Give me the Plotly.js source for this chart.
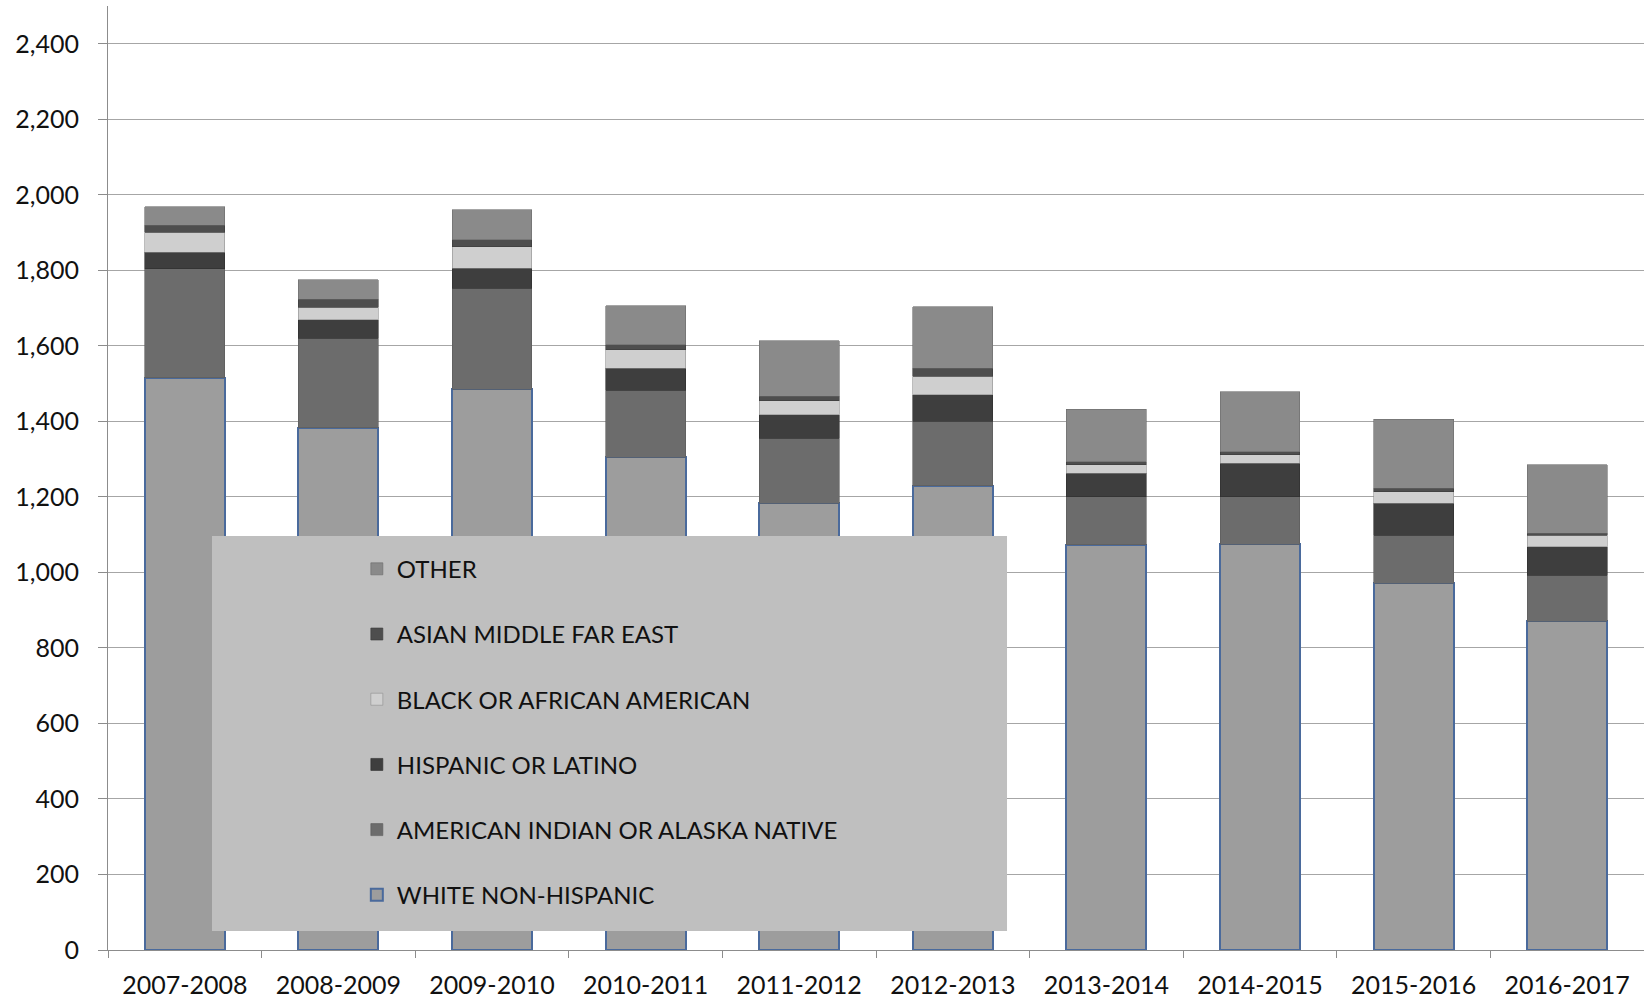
<!DOCTYPE html>
<html>
<head>
<meta charset="utf-8">
<script src="https://cdn.plot.ly/plotly-3.0.1.min.js"></script>
<style>
  html, body { margin: 0; padding: 0; background: #ffffff; }
  #chart { width: 1644px; height: 1001px; }
</style>
</head>
<body>
<div id="chart"></div>
<script>
const years = ["2007-2008", "2008-2009", "2009-2010", "2010-2011", "2011-2012",
               "2012-2013", "2013-2014", "2014-2015", "2015-2016", "2016-2017"];

const whiteNonHispanic = [1515, 1383, 1485, 1305, 1183, 1230, 1073, 1075, 971, 870];
const americanIndian   = [289, 237, 268, 178, 172, 170, 128, 126, 128, 123];
const hispanicLatino   = [44, 49, 53, 58, 62, 70, 62, 88, 84, 75];
const blackAfrican     = [53, 33, 57, 48, 38, 50, 22, 22, 31, 31];
const asianMiddleFar   = [18, 22, 18, 14, 11, 21, 8, 9, 9, 5];
const otherRace        = [50, 51, 79, 103, 147, 163, 139, 159, 183, 181];

const seriesNames = ["WHITE NON-HISPANIC", "AMERICAN INDIAN OR ALASKA NATIVE",
  "HISPANIC OR LATINO", "BLACK OR AFRICAN AMERICAN", "ASIAN MIDDLE FAR EAST", "OTHER"];
const seriesValues = [whiteNonHispanic, americanIndian, hispanicLatino, blackAfrican, asianMiddleFar, otherRace];
const seriesColors = ["#9d9d9d", "#6c6c6c", "#3e3e3e", "#cfcfcf", "#4e4e4e", "#8a8a8a"];
const seriesLines  = ["#4a6a9c", "#5a5a5a", "#2e2e2e", "#8f8f8f", "#3a3a3a", "#6a6a6a"];
const seriesLineW  = [2, 0.6, 0.6, 0.6, 0.6, 0.6];

const yTicks = [0, 200, 400, 600, 800, 1000, 1200, 1400, 1600, 1800, 2000, 2200, 2400];

const traces = seriesNames.map((name, i) => ({
  type: "bar",
  name: name,
  x: years,
  y: seriesValues[i],
  legendgroup: "g" + i,
  legendrank: seriesNames.length - i,
  marker: { color: seriesColors[i], line: { color: seriesLines[i], width: seriesLineW[i] } },
  hoverinfo: "x+y+name"
}));

const layout = {
  width: 1644,
  height: 1001,
  margin: { l: 108, r: 0, t: 6, b: 51, pad: 0 },
  paper_bgcolor: "#ffffff",
  plot_bgcolor: "#ffffff",
  barmode: "stack",
  bargap: 0.48,
  font: { family: "Lato, 'Open Sans', sans-serif", color: "#111111" },
  xaxis: {
    type: "category",
    showgrid: false,
    showline: true,
    linecolor: "#8c8c8c",
    linewidth: 1,
    ticks: "outside",
    tickson: "boundaries",
    ticklen: 7,
    tickcolor: "#8c8c8c",
    ticklabelstandoff: 13,
    tickfont: { size: 25, family: "Lato, sans-serif", color: "#111111" },
    zeroline: false
  },
  yaxis: {
    range: [0, 2500],
    tickvals: yTicks,
    ticktext: yTicks.map(v => v.toLocaleString("en-US")),
    showgrid: true,
    gridcolor: "#a6a6a6",
    gridwidth: 1,
    showline: true,
    linecolor: "#8c8c8c",
    linewidth: 1,
    ticks: "outside",
    ticklen: 9,
    tickcolor: "#8c8c8c",
    ticklabelstandoff: 14,
    tickfont: { size: 25, family: "Lato, sans-serif", color: "#111111" },
    zeroline: false
  },
  shapes: [{
    type: "rect", xref: "paper", yref: "paper", layer: "above",
    x0: 0.0677, x1: 0.5853, y0: 0.0201, y1: 0.4386,
    fillcolor: "#bfbfbf", line: { width: 0 }
  }],
  showlegend: true,
  legend: {
    x: 0.162, xanchor: "left",
    y: 0.4272, yanchor: "top",
    bgcolor: "rgba(0,0,0,0)",
    borderwidth: 0,
    traceorder: "grouped",
    tracegroupgap: 31,
    font: { size: 24, family: "Lato, sans-serif", color: "#111111" }
  }
};

Plotly.newPlot("chart", traces, layout, { displayModeBar: false, staticPlot: true });
</script>
</body>
</html>
